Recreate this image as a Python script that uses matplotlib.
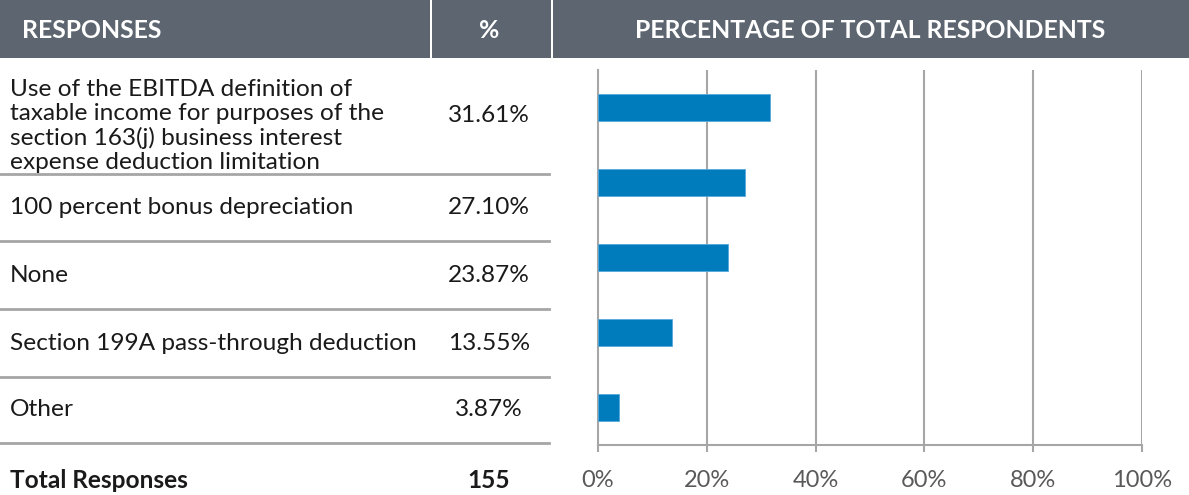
import matplotlib
matplotlib.use("Agg")
import matplotlib.pyplot as plt
from matplotlib.patches import Rectangle
from matplotlib.lines import Line2D

responses = [
    "Use of the EBITDA definition of\ntaxable income for purposes of the\nsection 163(j) business interest\nexpense deduction limitation",
    "100 percent bonus depreciation",
    "None",
    "Section 199A pass-through deduction",
    "Other",
]
percentages = [31.61, 27.10, 23.87, 13.55, 3.87]
total_label = "Total Responses"
total_value = 155
header_labels = ["RESPONSES", "%", "PERCENTAGE OF TOTAL RESPONDENTS"]
x_ticks = [0, 20, 40, 60, 80, 100]

W, H = 1189, 495
FONT = "Lato"
HEADER_BG = "#5d6670"
BAR = "#007bbb"
GRID = "#a6a6a6"
TEXT = "#1a1a1a"
BODY = 17.6

fig = plt.figure(figsize=(W / 100, H / 100), dpi=100)
fig.patch.set_facecolor("white")

def fx(px):
    return px / W

def fy(py):
    return 1 - py / H

# header bands
hdr_top, hdr_bot = 0, 58
cols = [(0, 430), (432, 551), (553, W)]
for (a, b) in cols:
    fig.patches.append(Rectangle((fx(a), fy(hdr_bot)), fx(b) - fx(a), fy(hdr_top) - fy(hdr_bot),
                                 transform=fig.transFigure, facecolor=HEADER_BG, edgecolor="none"))
hy = fy(30)
fig.text(fx(22), hy, header_labels[0], ha="left", va="center", color="white",
         fontsize=17.8, fontweight="bold", family=FONT)
fig.text(fx(489), hy, header_labels[1], ha="center", va="center", color="white",
         fontsize=17.8, fontweight="bold", family=FONT)
fig.text(fx(870), hy, header_labels[2], ha="center", va="center", color="white",
         fontsize=17.8, fontweight="bold", family=FONT)

# table rows
separators = [174, 241, 309, 377, 443]
bounds = [hdr_bot] + separators
for i, (label, pct) in enumerate(zip(responses, percentages)):
    cy = (bounds[i] + bounds[i + 1]) / 2
    ty = cy + 10 if "\n" in label else cy
    fig.text(fx(10), fy(ty), label, ha="left", va="center", color=TEXT,
             fontsize=BODY, family=FONT, linespacing=1.18)
    fig.text(fx(489), fy(cy), f"{pct:.2f}%", ha="center", va="center", color=TEXT,
             fontsize=BODY, family=FONT)
for s in separators:
    fig.lines.append(Line2D([fx(0), fx(549)], [fy(s), fy(s)], transform=fig.transFigure,
                            color="#a6a6a6", lw=2.0))
fig.text(fx(10), fy(481), total_label, ha="left", va="center", color=TEXT,
         fontsize=BODY, fontweight="bold", family=FONT)
fig.text(fx(489), fy(481), str(total_value), ha="center", va="center", color=TEXT,
         fontsize=BODY, fontweight="bold", family=FONT)

# chart
ax_l, ax_r, ax_t, ax_b = 598, 1142, 70, 445
ax = fig.add_axes([fx(ax_l), fy(ax_b), fx(ax_r) - fx(ax_l), fy(ax_t) - fy(ax_b)])
ypos = list(range(len(percentages)))
ax.barh(ypos, percentages, height=0.36, color=BAR, edgecolor="#55aadd", linewidth=0.6, zorder=3)
ax.set_xlim(0, 100)
ax.set_ylim(len(percentages) - 0.5, -0.5)
ax.set_yticks([])
ax.set_xticks(x_ticks)
ax.set_xticklabels([f"{t}%" for t in x_ticks], family=FONT, fontsize=17, color="#595959")
for t in x_ticks[1:]:
    ax.axvline(t, color=GRID, lw=1.5, zorder=1)
for side in ["top", "right"]:
    ax.spines[side].set_visible(False)
ax.spines["left"].set_color(GRID)
ax.spines["left"].set_linewidth(1.5)
ax.spines["bottom"].set_color(GRID)
ax.spines["bottom"].set_linewidth(1.5)
ax.tick_params(axis="x", direction="out", length=5, width=1.5, color=GRID, pad=13)
ax.set_facecolor("none")

fig.savefig("out.png", dpi=100)
